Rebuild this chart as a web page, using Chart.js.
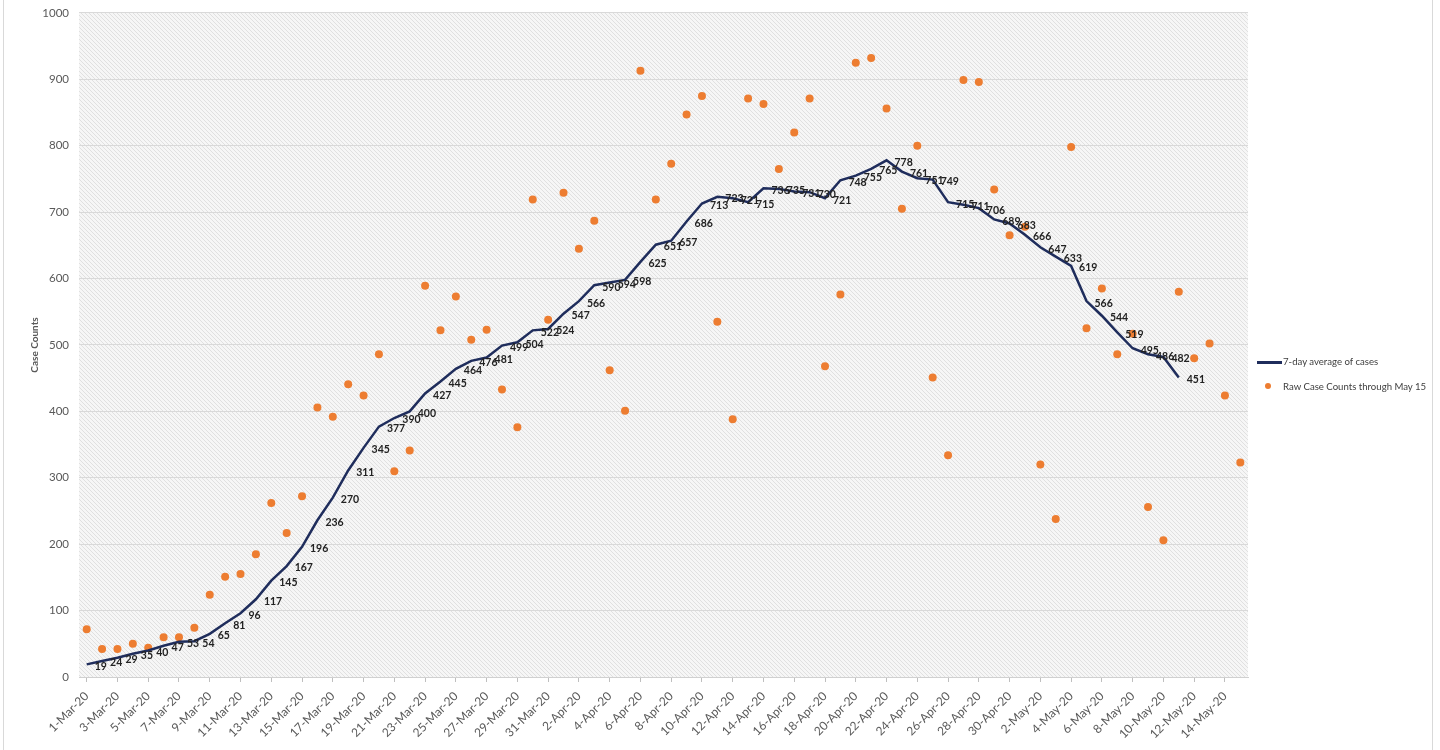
<!DOCTYPE html>
<html>
<head>
<meta charset="utf-8">
<script src="https://cdn.jsdelivr.net/npm/chart.js@4.4.0/dist/chart.umd.min.js"></script>
<style>
  html, body { margin: 0; padding: 0; background: #fff; }
  #wrap { position: relative; width: 1440px; height: 750px; overflow: hidden; }
  #frame { position: absolute; left: 3px; top: -2px; width: 1428px; height: 760px; border: 1px solid #d9d9d9; }
  #chart { position: absolute; left: 0; top: -4px; }
  .leg { position: absolute; left: 1283px; font: 9.6px Lato, sans-serif; color: #404040; white-space: nowrap; line-height: 12px; }
  .legLine { position: absolute; left: 1257px; width: 25px; height: 3px; background: #1f2d5c; }
  .legDot { position: absolute; width: 6px; height: 6px; border-radius: 50%; background: #ed7d31; }
</style>
</head>
<body>
<div id="wrap">
  <div id="frame"></div>
  <canvas id="chart" width="1440" height="754"></canvas>
  <div class="legLine" style="top:361px"></div>
  <div class="leg" style="top:356px">7-day average of cases</div>
  <div class="legDot" style="left:1265px;top:383px"></div>
  <div class="leg" style="top:381px">Raw Case Counts through May 15</div>
</div>
<script>
const dates = [
  '1-Mar-20','2-Mar-20','3-Mar-20','4-Mar-20','5-Mar-20','6-Mar-20','7-Mar-20','8-Mar-20','9-Mar-20','10-Mar-20',
  '11-Mar-20','12-Mar-20','13-Mar-20','14-Mar-20','15-Mar-20','16-Mar-20','17-Mar-20','18-Mar-20','19-Mar-20','20-Mar-20',
  '21-Mar-20','22-Mar-20','23-Mar-20','24-Mar-20','25-Mar-20','26-Mar-20','27-Mar-20','28-Mar-20','29-Mar-20','30-Mar-20',
  '31-Mar-20','1-Apr-20','2-Apr-20','3-Apr-20','4-Apr-20','5-Apr-20','6-Apr-20','7-Apr-20','8-Apr-20','9-Apr-20',
  '10-Apr-20','11-Apr-20','12-Apr-20','13-Apr-20','14-Apr-20','15-Apr-20','16-Apr-20','17-Apr-20','18-Apr-20','19-Apr-20',
  '20-Apr-20','21-Apr-20','22-Apr-20','23-Apr-20','24-Apr-20','25-Apr-20','26-Apr-20','27-Apr-20','28-Apr-20','29-Apr-20',
  '30-Apr-20','1-May-20','2-May-20','3-May-20','4-May-20','5-May-20','6-May-20','7-May-20','8-May-20','9-May-20',
  '10-May-20','11-May-20','12-May-20','13-May-20','14-May-20','15-May-20'
];

// 7-day average, 1-Mar through 11-May
const avg7 = [
  19, 24, 29, 35, 40, 47, 53, 54, 65, 81,
  96, 117, 145, 167, 196, 236, 270, 311, 345, 377,
  390, 400, 427, 445, 464, 476, 481, 499, 504, 522,
  524, 547, 566, 590, 594, 598, 625, 651, 657, 686,
  713, 723, 721, 715, 736, 735, 731, 730, 721, 748,
  755, 765, 778, 761, 751, 749, 715, 711, 706, 689,
  683, 666, 647, 633, 619, 566, 544, 519, 495, 486,
  482, 451
];

// raw daily counts, 1-Mar through 15-May
const rawCounts = [
  72, 42, 42, 50, 44, 60, 60, 74, 124, 151,
  155, 185, 262, 217, 272, 406, 392, 441, 424, 486,
  310, 341, 589, 522, 573, 508, 523, 433, 376, 719,
  538, 729, 645, 687, 462, 401, 913, 719, 773, 847,
  875, 535, 388, 871, 863, 765, 820, 871, 468, 576,
  925, 932, 856, 705, 800, 451, 334, 899, 896, 734,
  665, 678, 320, 238, 798, 525, 585, 486, 517, 256,
  206, 580, 480, 502, 424, 323
];

const yMin = 0, yMax = 1000, yStep = 100;

const hatchBg = {
  id: 'hatchBg',
  beforeDraw(chart) {
    const { ctx, chartArea: a } = chart;
    const t = document.createElement('canvas');
    t.width = 4; t.height = 4;
    const g = t.getContext('2d');
    g.fillStyle = '#f6f6f6';
    g.fillRect(0, 0, 4, 4);
    g.strokeStyle = '#e0e0e0';
    g.lineWidth = 1;
    g.beginPath();
    g.moveTo(-1, -1); g.lineTo(5, 5);
    g.moveTo(-1, 3); g.lineTo(1, 5);
    g.moveTo(3, -1); g.lineTo(5, 1);
    g.stroke();
    ctx.save();
    ctx.fillStyle = ctx.createPattern(t, 'repeat');
    ctx.fillRect(a.left, a.top, a.right - a.left, a.bottom - a.top);
    ctx.restore();
  }
};

const valueLabels = {
  id: 'valueLabels',
  afterDatasetsDraw(chart) {
    const ctx = chart.ctx;
    const meta = chart.getDatasetMeta(0);
    ctx.save();
    ctx.font = 'bold 10.5px Lato';
    ctx.fillStyle = '#222';
    ctx.textAlign = 'left';
    ctx.textBaseline = 'middle';
    meta.data.forEach((pt, i) => ctx.fillText(avg7[i], pt.x + 8, pt.y + 2));
    ctx.restore();
  }
};

new Chart(document.getElementById('chart'), {
  type: 'line',
  data: {
    labels: dates,
    datasets: [
      {
        label: '7-day average of cases',
        data: avg7,
        borderColor: '#1f2d5c',
        borderWidth: 2.5,
        pointRadius: 0,
        tension: 0
      },
      {
        label: 'Raw Case Counts through May 15',
        data: rawCounts,
        showLine: false,
        pointRadius: 4,
        pointBorderWidth: 0,
        pointBackgroundColor: '#ed7d31',
        backgroundColor: '#ed7d31'
      }
    ]
  },
  options: {
    responsive: false,
    animation: false,
    devicePixelRatio: 1,
    layout: { padding: { left: 0, top: 8, right: 192, bottom: 0 } },
    plugins: { legend: { display: false }, tooltip: { enabled: false } },
    scales: {
      x: {
        offset: true,
        grid: {
          drawOnChartArea: false,
          tickLength: 5,
          tickColor: c => c.index % 2 === 0 ? '#bfbfbf' : 'rgba(0,0,0,0)'
        },
        border: { color: '#d0d0d0' },
        ticks: {
          autoSkip: false,
          minRotation: 45,
          maxRotation: 45,
          padding: 7,
          color: '#595959',
          font: { family: 'Lato', size: 12 },
          callback: (v, i) => i % 2 === 0 ? dates[i] : ''
        },
        afterFit(s) { s.height = 73; }
      },
      y: {
        min: yMin,
        max: yMax,
        ticks: { stepSize: yStep, padding: 10, color: '#595959', font: { family: 'Lato', size: 11.5 }, callback: v => String(v) },
        grid: { color: '#d9d9d9', drawTicks: false },
        border: { display: false },
        title: {
          display: true,
          text: 'Case Counts',
          color: '#595959',
          font: { family: 'Lato', size: 10, weight: 'bold' },
          padding: { top: 29, bottom: 0 }
        },
        afterFit(s) { s.width = 79; }
      }
    }
  },
  plugins: [hatchBg, valueLabels]
});
</script>
</body>
</html>
